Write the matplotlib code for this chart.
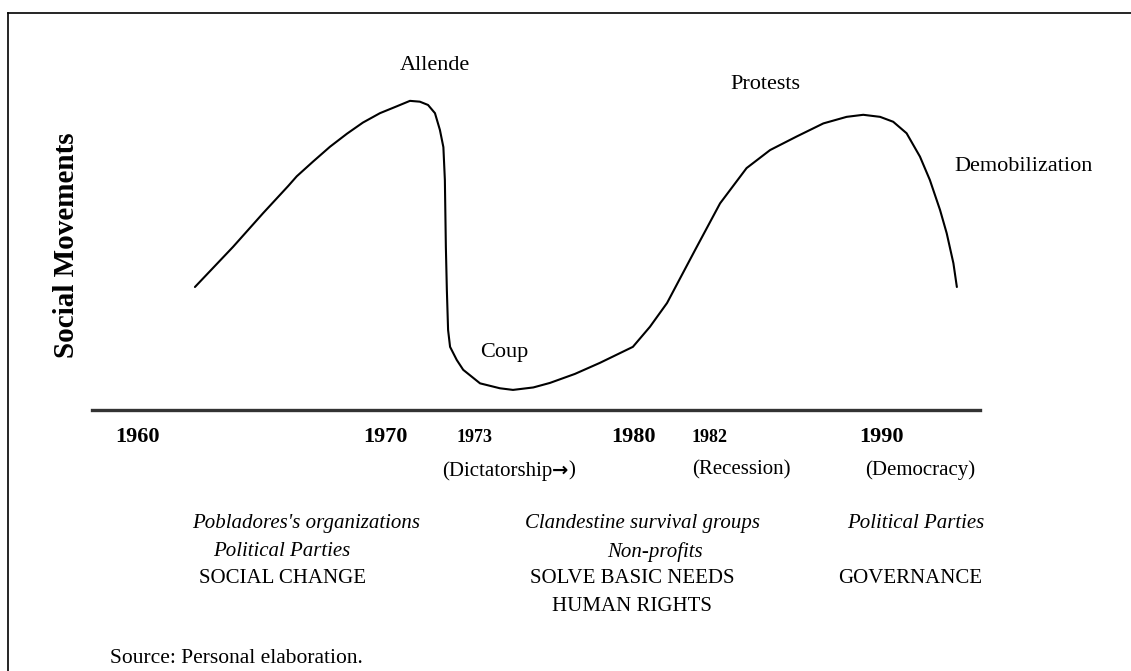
import matplotlib
matplotlib.use("Agg")
import matplotlib.pyplot as plt
from matplotlib.lines import Line2D

plt.rcParams['font.family'] = ['Liberation Serif', 'DejaVu Serif']

# mobilization curve: year vs level of social movement activity
years = [1962.30, 1963.07, 1963.84, 1965.05, 1966.06, 1966.41, 1967.07, 1967.75,
         1968.44, 1969.08, 1969.77, 1970.46, 1970.98, 1971.38, 1971.71, 1971.99,
         1972.19, 1972.33, 1972.39, 1972.43, 1972.47, 1972.52, 1972.60, 1972.87,
         1973.13, 1973.81, 1974.61, 1975.14, 1975.96, 1976.63, 1977.64, 1978.65,
         1979.98, 1980.67, 1981.36, 1982.49, 1983.50, 1984.57, 1985.52, 1986.59,
         1987.67, 1988.61, 1989.28, 1989.96, 1990.49, 1991.03, 1991.57, 1991.97,
         1992.38, 1992.65, 1992.92, 1993.06]
levels = [30.0, 34.9, 39.8, 48.0, 54.6, 57.0, 60.6, 64.2,
          67.4, 70.1, 72.4, 74.1, 75.4, 75.2, 74.4, 72.4,
          68.3, 64.1, 56.1, 39.8, 29.3, 19.5, 15.4, 12.2,
          9.8, 6.5, 5.3, 4.9, 5.5, 6.6, 8.8, 11.5,
          15.4, 20.3, 26.1, 39.0, 50.4, 59.0, 63.4, 66.7,
          69.9, 71.5, 72.0, 71.5, 70.3, 67.5, 61.8, 56.1,
          48.8, 43.1, 35.8, 30.0]

events = ['Allende', 'Coup', 'Protests', 'Demobilization']
event_x = [1971.99, 1974.78, 1985.31, 1995.77]
event_y = [84.1, 14.1, 79.3, 59.3]

decades = ['1960', '1970', '1980', '1990']
decade_x = [1960, 1970, 1980, 1990]
milestones = ['1973', '1982']
milestone_x = [1972.84, 1982.33]
periods = ['(Recession)', '(Democracy)']
period_x = [1984.38, 1991.57]

actors = [["Pobladores's organizations", 'Political Parties'],
          ['Clandestine survival groups', 'Non-profits'],
          ['Political Parties']]
actor_x = [[1966.78, 1965.81], [1980.36, 1980.87], [1991.41]]
goals = [['SOCIAL CHANGE'], ['SOLVE BASIC NEEDS', 'HUMAN RIGHTS'], ['GOVERNANCE']]
goal_x = [1965.85, 1979.95, 1991.17]

fig = plt.figure(figsize=(11.31, 6.71), dpi=100)
ax = fig.add_axes([0, 0, 1, 1])
ax.set_xlim(1954.43, 2000.09)
ax.set_ylim(-63.66, 100)
ax.axis('off')

ax.plot(years, levels, color='black', lw=1.5, solid_capstyle='round',
        solid_joinstyle='round')
ax.plot([1958.14, 1993.99], [0, 0], color='#333333', lw=2.4)

for name, x, y in zip(events, event_x, event_y):
    ax.text(x, y, name, ha='center', va='center', fontsize=16)

for name, x in zip(decades, decade_x):
    ax.text(x, -6.6, name, ha='center', va='center', fontsize=16, fontweight='bold')
for name, x in zip(milestones, milestone_x):
    ax.text(x, -6.8, name, ha='left', va='center', fontsize=13, fontweight='bold')

# "(Dictatorship" + heavy arrow + ")" chained on one baseline
t1 = ax.text(1972.26, -16.0, '(Dictatorship', ha='left', va='baseline', fontsize=15)
t2 = ax.annotate('\u2192', xy=(1, -16.0), xycoords=(t1, 'data'), ha='left',
                 va='baseline', fontsize=14, fontweight='bold', family='DejaVu Sans')
ax.annotate(')', xy=(1, -16.0), xycoords=(t2, 'data'), ha='left', va='baseline',
            fontsize=15)
for name, x in zip(periods, period_x):
    ax.text(x, -14.6, name, ha='center', va='center', fontsize=15)

for rows, xs in zip(actors, actor_x):
    for i, (name, x) in enumerate(zip(rows, xs)):
        ax.text(x, -27.6 - 7.0 * i, name, ha='center', va='center',
                fontsize=15, style='italic')
for rows, x in zip(goals, goal_x):
    for i, name in enumerate(rows):
        ax.text(x, -41.2 - 6.8 * i, name, ha='center', va='center', fontsize=15)

ax.text(1957.13, 40.2, 'Social Movements', rotation=90, ha='center', va='center',
        fontsize=21, fontweight='bold')
ax.text(1958.87, -60.6, 'Source: Personal elaboration.', ha='left', va='center',
        fontsize=15.5)

# frame around the figure (top and left edges)
fig.add_artist(Line2D([0.00707, 1], [0.9806, 0.9806], color='black', lw=1.2))
fig.add_artist(Line2D([0.00707, 0.00707], [0, 0.9806], color='black', lw=1.2))

fig.savefig('out.png', dpi=100)
